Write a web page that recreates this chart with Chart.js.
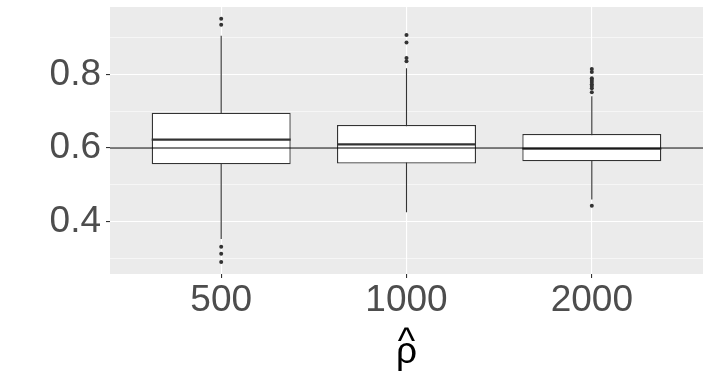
<!DOCTYPE html>
<html>
<head>
<meta charset="utf-8">
<script src="https://cdn.jsdelivr.net/npm/chart.js@4"></script>
<style>
    html, body { margin: 0; padding: 0; background: #ffffff; }
    #wrap { width: 711px; height: 384px; }
</style>
</head>
<body>
<div id="wrap"><canvas id="boxChart" width="711" height="384"></canvas></div>
<script>

/* ==========================================================
   DATA
========================================================== */

const categories = ["500", "1000", "2000"];

const whiskerLow  = [0.352, 0.425, 0.460];
const quartileLow = [0.556, 0.558, 0.564];
const medians     = [0.623, 0.610, 0.598];
const quartileHigh = [0.696, 0.663, 0.638];
const whiskerHigh = [0.906, 0.817, 0.741];

const outliers = [
    [0.952, 0.936, 0.331, 0.312, 0.290],
    [0.908, 0.887, 0.845, 0.836],
    [0.815, 0.807, 0.790, 0.785, 0.780, 0.774, 0.769, 0.763, 0.752, 0.443]
];

const refLine = 0.6;

const yTicks = [0.3, 0.4, 0.5, 0.6, 0.7, 0.8, 0.9];
const yMajor = [0.4, 0.6, 0.8];

/* ==========================================================
   STYLE
========================================================== */

const BOX_WIDTH = 0.75;
const INK = "#333333";
const FONT = "'Liberation Sans', Arial, sans-serif";

/* ==========================================================
   BUILD DATASETS
========================================================== */

const positions = categories.map((c, i) => i + 1);

const whiskerPts = [];
const medianPts = [];
const outlierPts = [];

positions.forEach((x, i) => {

    whiskerPts.push({ x: x, y: whiskerLow[i] });
    whiskerPts.push({ x: x, y: whiskerHigh[i] });
    whiskerPts.push({ x: x, y: null });

    medianPts.push({ x: x - BOX_WIDTH / 2, y: medians[i] });
    medianPts.push({ x: x + BOX_WIDTH / 2, y: medians[i] });
    medianPts.push({ x: x, y: null });

    outliers[i].forEach(v => outlierPts.push({ x: x, y: v }));

});

const boxes = positions.map((x, i) => ({
    x: x,
    y: [quartileLow[i], quartileHigh[i]]
}));

/* panel background like ggplot */
const panelBg = {
    id: "panelBg",
    beforeDraw(chart) {
        const { ctx, chartArea: { left, top, width, height } } = chart;
        ctx.save();
        ctx.fillStyle = "#EBEBEB";
        ctx.fillRect(left, top, width, height);
        ctx.restore();
    }
};

const isMajor = v => yMajor.some(m => Math.abs(m - v) < 1e-9);

const config = {

    type: "bar",

    data: {
        datasets: [
            {
                type: "line",
                data: [
                    { x: 0.4, y: refLine },
                    { x: positions.length + 0.6, y: refLine }
                ],
                borderColor: "#000000",
                borderWidth: 1.1,
                pointRadius: 0,
                order: 0
            },
            {
                type: "line",
                data: medianPts,
                borderColor: INK,
                borderWidth: 2.2,
                pointRadius: 0,
                spanGaps: false,
                order: 1
            },
            {
                type: "scatter",
                data: outlierPts,
                backgroundColor: INK,
                borderColor: INK,
                pointRadius: 2,
                borderWidth: 0,
                order: 2
            },
            {
                type: "bar",
                data: boxes,
                backgroundColor: "#ffffff",
                borderColor: INK,
                borderWidth: 1.3,
                borderSkipped: false,
                barPercentage: BOX_WIDTH,
                categoryPercentage: 1,
                order: 3
            },
            {
                type: "line",
                data: whiskerPts,
                borderColor: INK,
                borderWidth: 1.1,
                pointRadius: 0,
                spanGaps: false,
                order: 4
            }
        ]
    },

    options: {
        responsive: false,
        animation: false,
        layout: {
            padding: { left: 0, right: 8, top: 7, bottom: 0 }
        },
        plugins: {
            legend: { display: false },
            tooltip: { enabled: false }
        },
        scales: {
            x: {
                type: "linear",
                min: 0.4,
                max: positions.length + 0.6,
                offset: false,
                afterBuildTicks(scale) {
                    scale.ticks = positions.map(v => ({ value: v }));
                },
                afterFit(scale) {
                    scale.height = 110;
                    scale.paddingLeft = 0;
                    scale.paddingRight = 0;
                },
                border: { display: false },
                grid: {
                    offset: false,
                    color: "#ffffff",
                    lineWidth: 1.1,
                    tickColor: INK,
                    tickLength: 4,
                    drawTicks: true
                },
                ticks: {
                    autoSkip: false,
                    maxRotation: 0,
                    padding: 1,
                    color: "#4D4D4D",
                    font: { family: FONT, size: 37 },
                    callback: (v) => categories[Math.round(v) - 1] ?? ""
                },
                title: {
                    display: true,
                    // hat over rho, as two stacked lines
                    text: ["^", "ρ"],
                    color: "#000000",
                    font: { family: FONT, size: 37, lineHeight: "10px" },
                    padding: { top: 0, bottom: 26 }
                }
            },
            y: {
                min: 0.257,
                max: 0.984,
                afterBuildTicks(scale) {
                    scale.ticks = yTicks.map(v => ({ value: v }));
                },
                afterFit(scale) {
                    scale.width = 110;
                    scale.paddingTop = 0;
                    scale.paddingBottom = 0;
                },
                border: { display: false },
                grid: {
                    color: "#ffffff",
                    lineWidth: ctx => isMajor(ctx.tick.value) ? 1.1 : 0.55,
                    tickColor: ctx => isMajor(ctx.tick.value) ? INK : "rgba(0,0,0,0)",
                    tickLength: 4
                },
                ticks: {
                    autoSkip: false,
                    padding: 5,
                    color: "#4D4D4D",
                    font: { family: FONT, size: 37 },
                    callback: v => isMajor(v) ? v.toFixed(1) : ""
                }
            }
        }
    },

    plugins: [panelBg]

};

new Chart(document.getElementById("boxChart"), config);

</script>
</body>
</html>
